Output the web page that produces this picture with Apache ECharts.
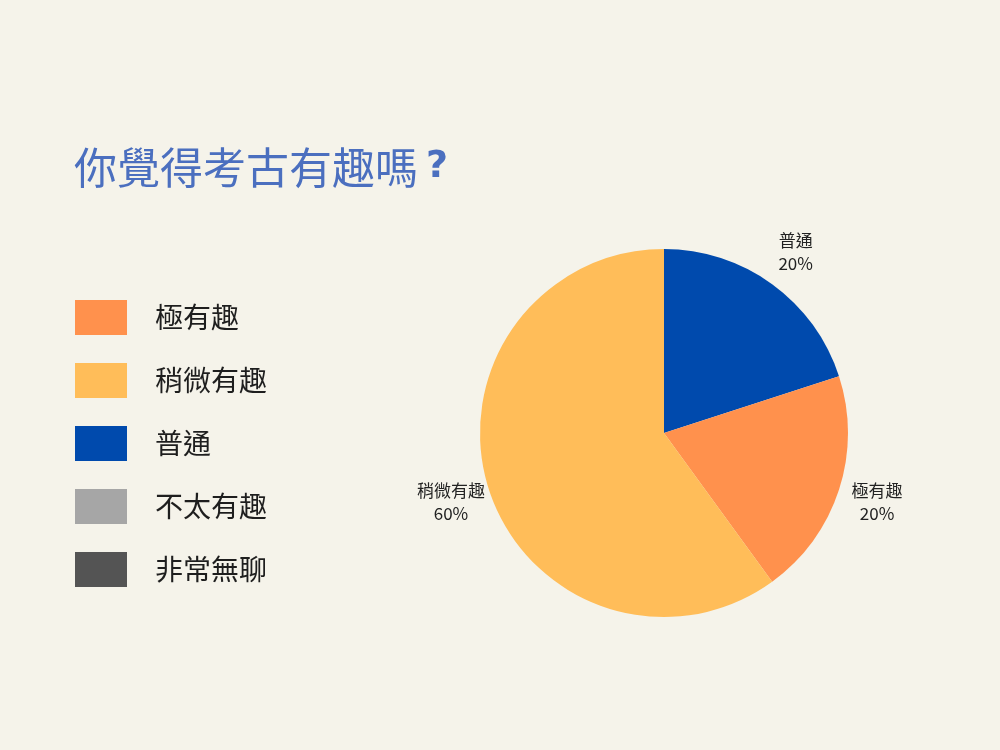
<!DOCTYPE html>
<html><head><meta charset="utf-8">
<script src="https://cdn.jsdelivr.net/npm/echarts@6/dist/echarts.min.js"></script>
<style>html,body{margin:0;padding:0;background:#F5F3EA;}#c{width:1000px;height:750px;}</style>
</head><body><div id="c"></div>
<script>
const titleText = '你覺得考古有趣嗎';
const categories = ['普通', '極有趣', '稍微有趣', '不太有趣', '非常無聊'];
const values = [20, 20, 60, 0, 0];
const legendOrder = ['極有趣', '稍微有趣', '普通', '不太有趣', '非常無聊'];
const colorMap = {'極有趣':'#FF914D','稍微有趣':'#FFBD59','普通':'#004AAD','不太有趣':'#A6A6A6','非常無聊':'#545454'};

const font = '"Noto Sans CJK TC", "Noto Sans", sans-serif';
const total = values.reduce((a,b)=>a+b,0);
const pieData = categories.map((n,i)=>({name:n, value:values[i], itemStyle:{color:colorMap[n]}}));
const labelData = categories.map((n,i)=>({name:n, value:values[i], itemStyle:{color:'rgba(0,0,0,0)'}}));

const chart = echarts.init(document.getElementById('c'));
chart.setOption({
  backgroundColor:'#F5F3EA',
  animation:false,
  title:{
    text:titleText + '{q|?}',
    left:69, top:141,
    textStyle:{fontFamily:font, fontSize:43, fontWeight:'normal', color:'#4B6FBF',
      rich:{q:{fontFamily:'"DejaVu Sans", sans-serif', fontSize:38, fontWeight:'bold', color:'#4B6FBF', padding:[0,0,0,8]}}}
  },
  legend:{
    orient:'vertical', left:70, top:295,
    data:legendOrder, icon:'rect', itemWidth:52, itemHeight:35, itemGap:28,
    selectedMode:false,
    textStyle:{fontFamily:font, fontSize:28, color:'#1E1E1E', padding:[0,0,0,23]}
  },
  series:[
    {
      type:'pie', center:[664,433], radius:[0,184], startAngle:90, clockwise:true,
      data:pieData, label:{show:false}, labelLine:{show:false}, silent:true,
      itemStyle:{borderWidth:0}
    },
    {
      type:'pie', center:[664,433], radius:[196,246], startAngle:90, clockwise:true,
      data:labelData, silent:true, labelLine:{show:false},
      label:{show:true, position:'inside', fontFamily:font, fontSize:17, color:'#222', lineHeight:23,
        formatter:function(p){ return p.value ? p.name + '\n' + Math.round(p.value/total*100) + '%' : ''; }}
    }
  ]
});
</script></body></html>
